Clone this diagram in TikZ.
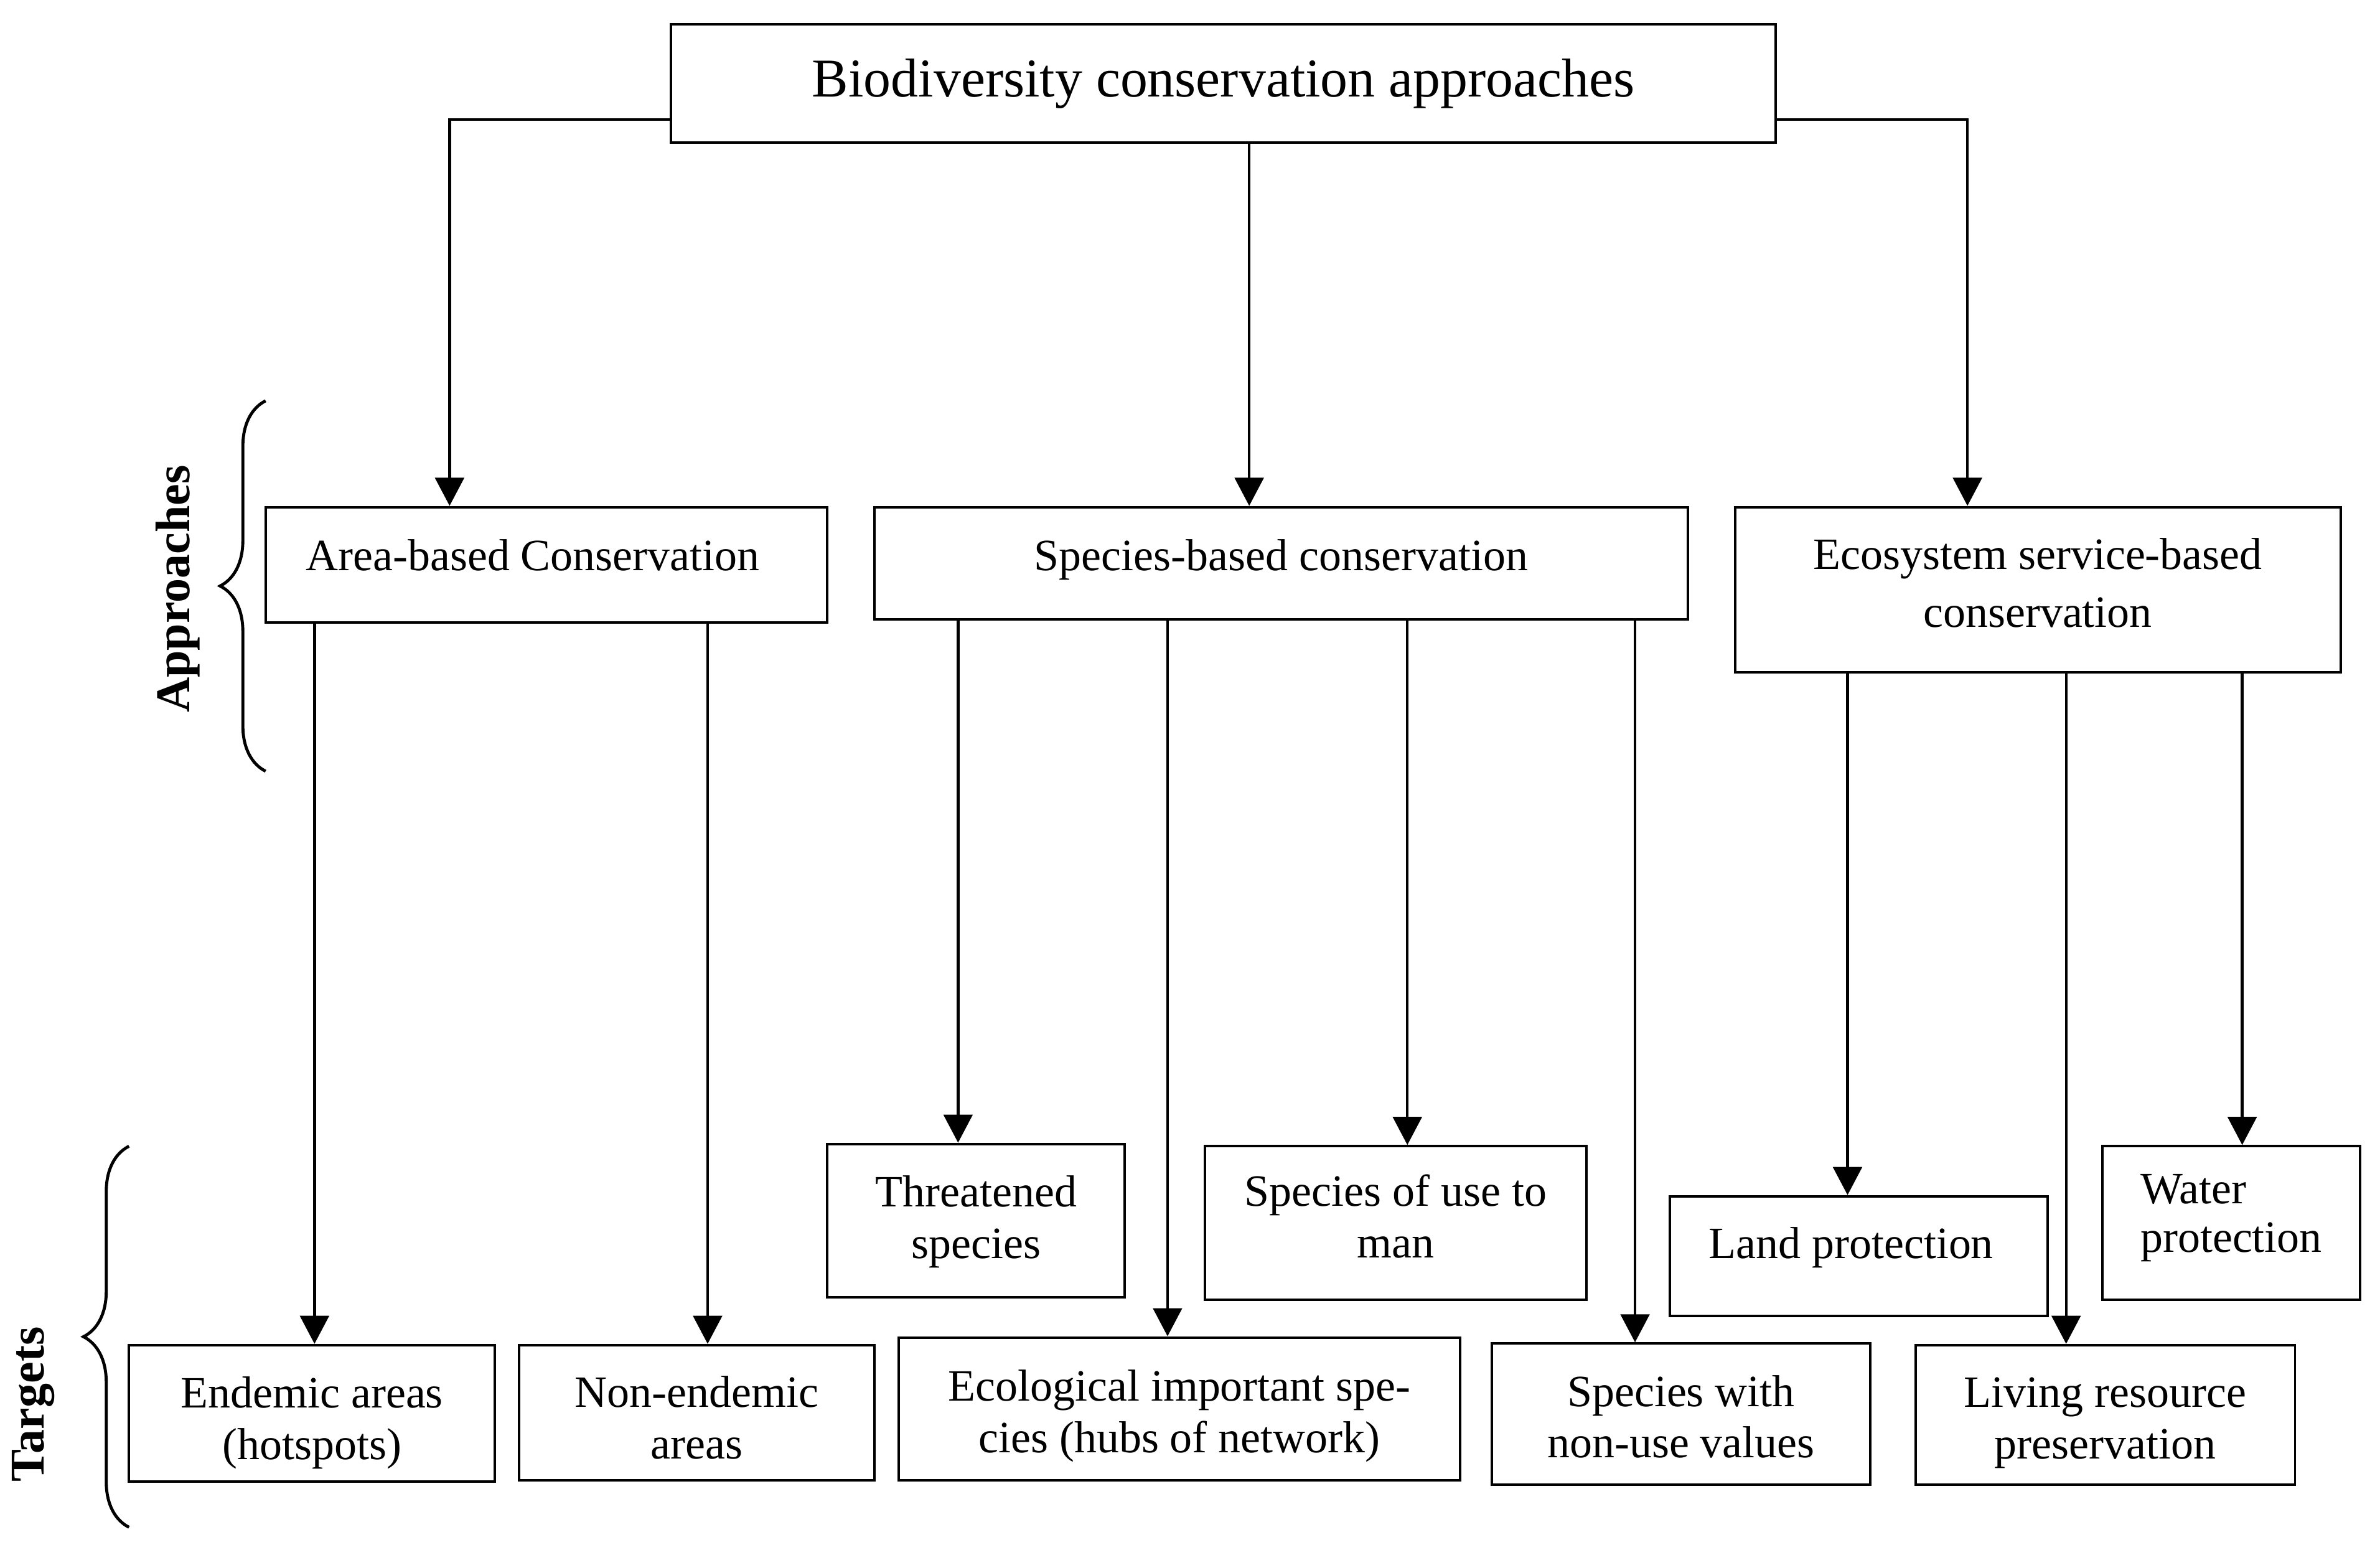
\documentclass[tikz,border=0pt]{standalone}
\usepackage{fontspec}
\setmainfont{Liberation Serif}
\usetikzlibrary{arrows.meta,decorations.pathreplacing,calc}
\newcommand\mlines[4][c]{\raisebox{#2}[\height][\depth]{\fontsize{29.5}{#3}\selectfont\begin{tabular}{@{}#1@{}}#4\end{tabular}}}
\begin{document}
\begin{tikzpicture}[x=1pt,y=-1pt,
  box/.style={draw=black,line width=1.6pt,rectangle,inner sep=0pt,align=center,
    font=\fontsize{29.5}{34}\selectfont},
  arr/.style={line width=1.8pt,-{Triangle[width=19pt,length=18.5pt]}},
  brc/.style={line width=2pt,decorate,decoration={brace,amplitude=30pt}},
  side/.style={font=\bfseries\fontsize{32}{36}\selectfont,rotate=90}]
\useasboundingbox (0,0) rectangle (1568,1024);
% boxes
\node[box,minimum width=728pt,minimum height=78pt,font=\fontsize{36}{40}\selectfont] (top) at (806,55) {Biodiversity conservation approaches};
\node[box,minimum width=370pt,minimum height=76pt,text height=20pt,text depth=12pt] (area) at (360,372) {Area-based Conservation\hspace*{18pt}};
\node[box,minimum width=536pt,minimum height=74pt,text height=20pt,text depth=10pt] (species) at (844,371) {Species-based conservation};
\node[box,minimum width=399pt,minimum height=109pt] (eco) at (1342.5,388.5) {\mlines{2pt}{38}{Ecosystem service-based\\conservation}};
\node[box,minimum width=241pt,minimum height=90pt] (endemic) at (205.5,931) {\mlines{-6.5pt}{34}{Endemic areas\\(hotspots)}};
\node[box,minimum width=234pt,minimum height=89pt] (nonend) at (459,930.5) {\mlines{-6.5pt}{34}{Non-endemic\\areas}};
\node[box,minimum width=196pt,minimum height=101pt] (threat) at (643,804) {\mlines{-1pt}{34}{Threatened\\species}};
\node[box,minimum width=370pt,minimum height=94pt] (ecol) at (777,928) {\mlines{-5pt}{34}{Ecological important spe-\\cies (hubs of network)}};
\node[box,minimum width=251pt,minimum height=101pt] (use) at (919.5,805.5) {\mlines{1pt}{34}{Species of use to\\man}};
\node[box,minimum width=249pt,minimum height=93pt] (nonuse) at (1107.5,931.5) {\mlines{-5pt}{34}{Species with\\non-use values}};
\node[box,minimum width=249pt,minimum height=79pt,text height=20pt,text depth=17pt] (land) at (1224.5,827.5) {Land protection\hspace*{10pt}};
\node[box,minimum width=250pt,minimum height=92pt] (living) at (1387,932) {\mlines{-5pt}{34}{Living resource\\preservation}};
\node[box,minimum width=170pt,minimum height=101pt] (water) at (1470,805.5) {\mlines[l]{3pt}{32}{Water\\protection}};
% side labels
\node[side] (lapp) at (117,388) {Approaches};
\node[side] (ltar) at (22,925) {Targets};
\draw[brc] (175,508) -- (175,264);
\draw[brc] (85,1006) -- (85,755);
% top connectors
\coordinate (tl) at ($(top.south west)+(0,-16)$);
\coordinate (tr) at ($(top.south east)+(0,-16)$);
\coordinate (tm) at ($(top.south)+(17,0)$);
\coordinate (al) at ($(area.north west)+(122,0)$);
\coordinate (er) at ($(eco.north west)+(154,0)$);
\draw[arr] (tl) -| (al);
\draw[arr] (tr) -| (er);
\draw[arr] (tm) -- (tm |- species.north);
% area arrows
\coordinate (a1) at ($(area.south west)+(33,0)$);
\coordinate (a2) at ($(area.south west)+(292,0)$);
\draw[arr] (a1) -- (a1 |- endemic.north);
\draw[arr] (a2) -- (a2 |- nonend.north);
% species arrows
\coordinate (s1) at ($(species.south west)+(56,0)$);
\coordinate (s2) at ($(species.south west)+(194,0)$);
\coordinate (s3) at ($(species.south west)+(352,0)$);
\coordinate (s4) at ($(species.south west)+(502,0)$);
\draw[arr] (s1) -- (s1 |- threat.north);
\draw[arr] (s2) -- (s2 |- ecol.north);
\draw[arr] (s3) -- (s3 |- use.north);
\draw[arr] (s4) -- (s4 |- nonuse.north);
% ecosystem arrows
\coordinate (e1) at ($(eco.south west)+(75,0)$);
\coordinate (e2) at ($(eco.south west)+(219,0)$);
\coordinate (e3) at ($(eco.south west)+(335,0)$);
\draw[arr] (e1) -- (e1 |- land.north);
\draw[arr] (e2) -- (e2 |- living.north);
\draw[arr] (e3) -- (e3 |- water.north);
\end{tikzpicture}
\end{document}
